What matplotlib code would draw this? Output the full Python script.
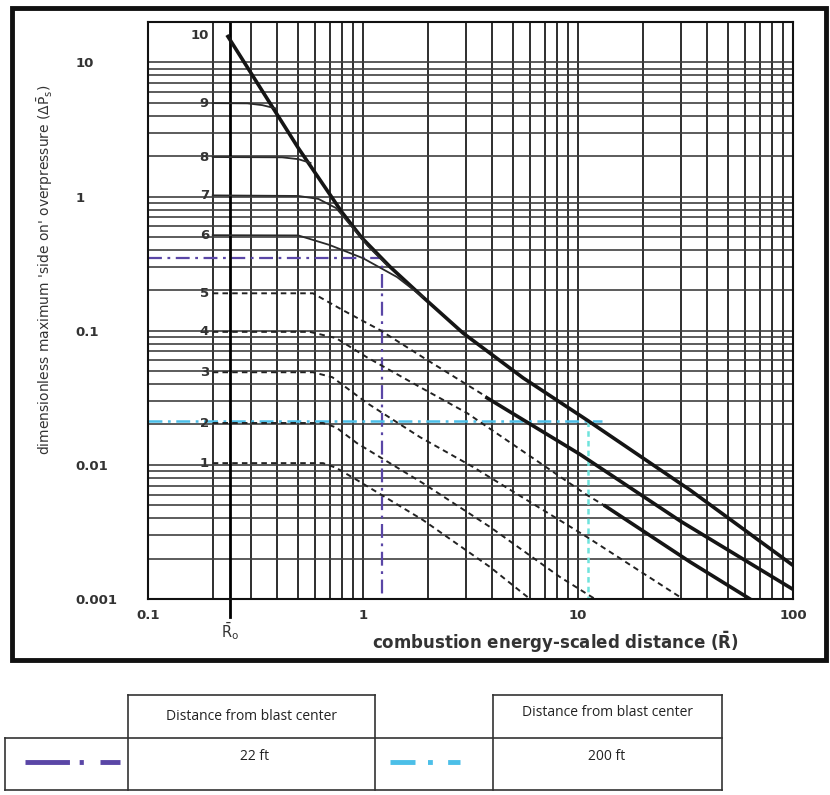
import matplotlib
matplotlib.use('Agg')
import matplotlib.pyplot as plt
from matplotlib.ticker import LogLocator, NullFormatter
from matplotlib.lines import Line2D
from matplotlib.patches import Rectangle

plt.rcParams['lines.scale_dashes'] = False
plt.rcParams['mathtext.default'] = 'regular'

W, H = 830, 795

# # # axis ticks
x_ticks = [0.1, 1, 10, 100]
x_tick_labels = ['0.1', '1', '10', '100']
y_ticks = [0.001, 0.01, 0.1, 1, 10]
y_tick_labels = ['0.001', '0.01', '0.1', '1', '10']

R0 = 0.24

# curve numbers and their starting (flat) overpressure levels
curve_numbers = ['1', '2', '3', '4', '5', '6', '7', '8', '9', '10']
start_levels = [0.0103, 0.0205, 0.049, 0.098, 0.19, 0.515, 1.02, 1.97, 4.97, 16.0]

# curve 10 - thick envelope
c10_x = [0.233, 0.5, 0.8, 0.99, 1.34, 1.9, 2.92, 5.55, 11.0, 33.2, 100]
c10_y = [16.0, 2.3, 0.76, 0.49, 0.298, 0.178, 0.096, 0.0445, 0.0216, 0.00649, 0.00178]

# thin solid curves 6 - 9
c9_x = [0.2, 0.29, 0.34, 0.39]
c9_y = [4.97, 4.95, 4.8, 4.55]
c8_x = [0.2, 0.42, 0.5, 0.57]
c8_y = [1.97, 1.96, 1.9, 1.78]
c7_x = [0.2, 0.5, 0.62, 0.75, 0.9, 1.05, 1.3]
c7_y = [1.02, 1.01, 0.96, 0.82, 0.58, 0.43, 0.305]
c6_x = [0.2, 0.5, 0.7, 1.0, 1.44, 1.9]
c6_y = [0.515, 0.513, 0.435, 0.347, 0.251, 0.178]

# dashed curves 1 - 5
c5_x = [0.2, 0.585, 0.807, 1.2, 1.99, 3.77]
c5_y = [0.19, 0.19, 0.142, 0.101, 0.0604, 0.032]
c4_x = [0.2, 0.566, 0.75, 1.04, 1.84, 3.05, 11.0, 13.4]
c4_y = [0.098, 0.098, 0.088, 0.0635, 0.038, 0.0243, 0.00596, 0.00493]
c3_x = [0.2, 0.585, 0.72, 1.04, 1.84, 3.25, 11.0, 30.8]
c3_y = [0.049, 0.049, 0.045, 0.029, 0.0161, 0.00964, 0.0029, 0.001]
c2_x = [0.2, 0.652, 0.75, 0.938, 1.9, 3.9, 8.24, 12.0]
c2_y = [0.0205, 0.0205, 0.019, 0.0145, 0.0073, 0.00344, 0.00146, 0.001]
c1_x = [0.2, 0.652, 0.75, 0.938, 1.9, 3.9, 5.98]
c1_y = [0.0103, 0.0103, 0.0095, 0.0077, 0.00388, 0.00173, 0.001]

# thick solid continuations
s2_x = [3.77, 10.2, 30.0, 100]
s2_y = [0.0316, 0.0120, 0.0038, 0.00118]
s3_x = [13.4, 33.2, 63.1]
s3_y = [0.00493, 0.00189, 0.001]

# read-off guides
guide22_R, guide22_P = 1.22, 0.347
guide200_R, guide200_P = 11.1, 0.0212
guide200_end = 13.0

table_header = 'Distance from blast center'
distances = ['22 ft', '200 ft']

purple = '#5a46a6'
cyan = '#4cbfe8'


def fx(x):
    return x / W


def fy(y):
    return 1 - y / H


fig = plt.figure(figsize=(8.3, 7.95), dpi=100)
ax = fig.add_axes([fx(148), fy(599), (793 - 148) / W, (599 - 22) / H])
ax.set_xscale('log')
ax.set_yscale('log')
ax.set_xlim(0.1, 100)
ax.set_ylim(0.001, 20)

for axis in [ax.xaxis, ax.yaxis]:
    axis.set_major_locator(LogLocator(base=10, numticks=20))
    axis.set_minor_locator(LogLocator(base=10, subs=range(2, 10), numticks=20))
    axis.set_minor_formatter(NullFormatter())
ax.grid(which='both', axis='x', color='#1e1e1e', lw=1.3)
ax.grid(which='both', axis='y', color='#404040', lw=1.2)
ax.tick_params(which='both', length=0)
for s in ax.spines.values():
    s.set_linewidth(1.5)
    s.set_color('#111111')

ax.set_xticks(x_ticks, x_tick_labels)
ax.set_yticks(y_ticks, y_tick_labels)
for t in ax.get_yticklabels():
    t.set_ha('left')
for t in ax.get_xticklabels() + ax.get_yticklabels():
    t.set_fontweight('bold')
    t.set_fontsize(9.5)
    t.set_color('#333333')
ax.tick_params(axis='y', pad=52)
ax.tick_params(axis='x', pad=7)

ax.set_xlabel(r'combustion energy-scaled distance ($\bar{R}$)', fontsize=12,
              fontweight='bold', color='#333333')
ax.xaxis.set_label_coords(0.631, -0.075)
ax.xaxis.label.set_va('center')
ax.set_ylabel(r"dimensionless maximum 'side on' overpressure ($\Delta\bar{P}_s$)",
              fontsize=10, color='#333333')
ax.yaxis.set_label_coords(-0.16, 0.57)
ax.yaxis.label.set_va('center')

# Ro line
ax.plot([R0, R0], [1, -0.031], transform=ax.get_xaxis_transform(), color='k',
        lw=2, clip_on=False)
ax.text(R0, -0.056, r'$\bar{R}_o$', transform=ax.get_xaxis_transform(),
        ha='center', va='center', fontsize=10.5, color='#333333')

# guides (behind curves)
ax.plot([0.1, guide22_R, guide22_R], [guide22_P, guide22_P, 0.001], color=purple,
        lw=1.6, linestyle=(0, (10, 4, 2, 4)), zorder=1.8)
ax.plot([0.1, guide200_end], [guide200_P, guide200_P], color=cyan, lw=1.8,
        linestyle=(0, (10, 4, 2, 4)), zorder=1.8)
ax.plot([guide200_R, guide200_R], [guide200_P, 0.001], color='#6fe3dc', lw=1.8,
        linestyle=(0, (4, 3)), zorder=1.8)

# curves
k = '#151515'
ax.plot(c10_x, c10_y, color=k, lw=2.6, solid_capstyle='butt')
for cx, cy in [(c9_x, c9_y), (c8_x, c8_y), (c7_x, c7_y), (c6_x, c6_y)]:
    ax.plot(cx, cy, color='#2a2a2a', lw=1.3)
for cx, cy in [(c5_x, c5_y), (c4_x, c4_y), (c3_x, c3_y), (c2_x, c2_y), (c1_x, c1_y)]:
    ax.plot(cx, cy, color='#222222', lw=1.4, linestyle=(0, (4, 3)))
ax.plot(s2_x, s2_y, color=k, lw=2.6)
ax.plot(s3_x, s3_y, color=k, lw=2.6)

for num, lev in zip(curve_numbers, start_levels):
    ax.text(0.192, lev, num, ha='right', va='center', fontsize=9.5,
            fontweight='bold', color='#333333')

# outer frame
fig.patches.append(Rectangle((fx(12), fy(660)), (826 - 12) / W, (660 - 8) / H,
                             transform=fig.transFigure, fill=False, lw=3.5,
                             ec='#111111'))

# table below the chart
def hline(x0, x1, y):
    fig.add_artist(Line2D([fx(x0), fx(x1)], [fy(y), fy(y)], color='#333333', lw=1.2))


def vline(x, y0, y1):
    fig.add_artist(Line2D([fx(x), fx(x)], [fy(y0), fy(y1)], color='#333333', lw=1.2))


for x0, x1 in [(128, 375), (493, 722)]:
    hline(x0, x1, 695)
    vline(x0, 695, 790)
    vline(x1, 695, 790)
hline(5, 722, 738)
hline(5, 722, 790)
vline(5, 738, 790)

fig.text(fx(251), fy(716), table_header, ha='center', va='center',
         fontsize=10, family='Open Sans', color='#222222')
fig.text(fx(607), fy(712), table_header, ha='center', va='center',
         fontsize=10, family='Open Sans', color='#222222')
fig.text(fx(255), fy(757), distances[0], ha='center', va='center',
         fontsize=10, family='Open Sans', color='#222222')
fig.text(fx(607), fy(757), distances[1], ha='center', va='center',
         fontsize=10, family='Open Sans', color='#222222')

fig.add_artist(Line2D([fx(25), fx(120)], [fy(762), fy(762)], color=purple, lw=3.5,
                      linestyle=(0, (32, 7, 3, 12))))
fig.add_artist(Line2D([fx(390), fx(460)], [fy(762), fy(762)], color=cyan, lw=3.5,
                      linestyle=(0, (18, 9, 3.5, 11))))

plt.savefig('out.png', dpi=100)
plt.close()
